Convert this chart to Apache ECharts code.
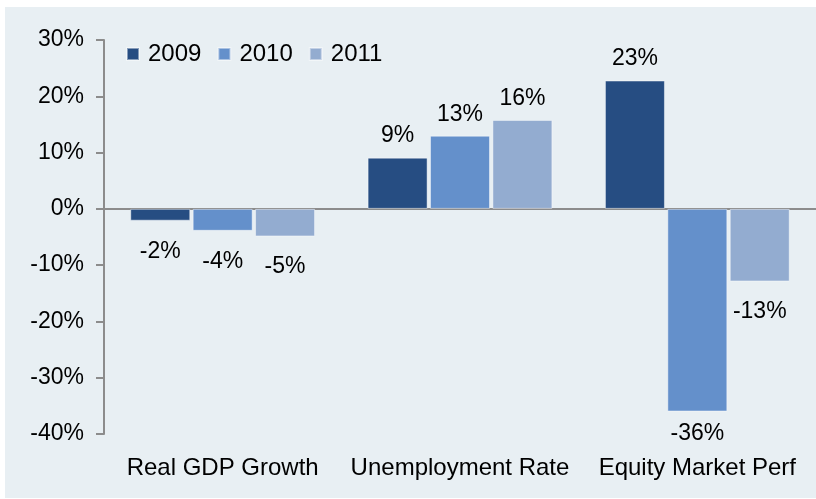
<!DOCTYPE html>
<html>
<head>
<meta charset="utf-8">
<script src="https://cdn.jsdelivr.net/npm/echarts@6/dist/echarts.min.js"></script>
<style>
  html, body { margin: 0; padding: 0; background: #fff; }
  #chart { position: absolute; left: 5px; top: 7px; width: 811px; height: 491px; background: #e8eff3; }
</style>
</head>
<body>
<div id="chart"></div>
<script>
const categories = ['Real GDP Growth', 'Unemployment Rate', 'Equity Market Perf'];
const years = ['2009', '2010', '2011'];
const values2009 = [-2.1, 9.1, 22.8];
const values2010 = [-3.9, 13.0, -36.0];
const values2011 = [-4.9, 15.8, -12.9];
const colors = ['#264d82', '#6490cb', '#93acd0'];

const font = 'Liberation Sans, Arial, sans-serif';

function toData(arr) {
  return arr.map((v) => {
    let distance = 10;
    if (v < 0) {
      // the deepest bar's label sits closer so it clears the axis text
      distance = v < -30 ? 11 : 19;
    }
    return {
      value: v,
      label: { position: v < 0 ? 'bottom' : 'top', distance },
    };
  });
}

const chart = echarts.init(document.getElementById('chart'));
const seriesData = [values2009, values2010, values2011];

const option = {
  animation: false,
  textStyle: { fontFamily: font },
  grid: { left: 99, top: 33, bottom: 64, right: 0 },
  legend: {
    data: years,
    left: 116,
    top: 30,
    itemWidth: 12,
    itemHeight: 12,
    itemGap: 16,
    textStyle: { fontSize: 24, color: '#000', fontFamily: font, padding: [0, 0, 0, 4] },
    icon: 'rect',
  },
  xAxis: [
    {
      type: 'category',
      data: categories,
      position: 'bottom',
      axisLine: { show: false, onZero: false },
      axisTick: { show: false },
      axisLabel: { fontSize: 24, color: '#000', margin: 22, fontFamily: font, interval: 0, hideOverlap: false },
      splitLine: { show: false },
    },
    {
      type: 'category',
      data: categories,
      position: 'top',
      axisLine: { show: true, onZero: true, lineStyle: { color: '#8c8c8c', width: 2 } },
      axisTick: { show: false },
      axisLabel: { show: false },
      splitLine: { show: false },
    },
  ],
  yAxis: {
    type: 'value',
    min: -40,
    max: 30,
    interval: 10,
    axisLine: { show: true, lineStyle: { color: '#8c8c8c', width: 2 } },
    axisTick: { show: true, length: 8, lineStyle: { color: '#8c8c8c', width: 2 } },
    axisLabel: { fontSize: 23, color: '#000', margin: 20, formatter: '{value}%', fontFamily: font },
    splitLine: { show: false },
  },
  series: years.map((y, i) => ({
    name: y,
    type: 'bar',
    xAxisIndex: 0,
    data: toData(seriesData[i]),
    barWidth: 60,
    barGap: '4%',
    itemStyle: { color: colors[i], borderColor: 'rgba(255,255,255,0.45)', borderWidth: 1 },
    label: {
      show: true,
      fontSize: 23,
      color: '#000',
      fontFamily: font,
      formatter: (p) => `${Math.round(p.value)}%`,
    },
  })),
};
chart.setOption(option);
</script>
</body>
</html>
